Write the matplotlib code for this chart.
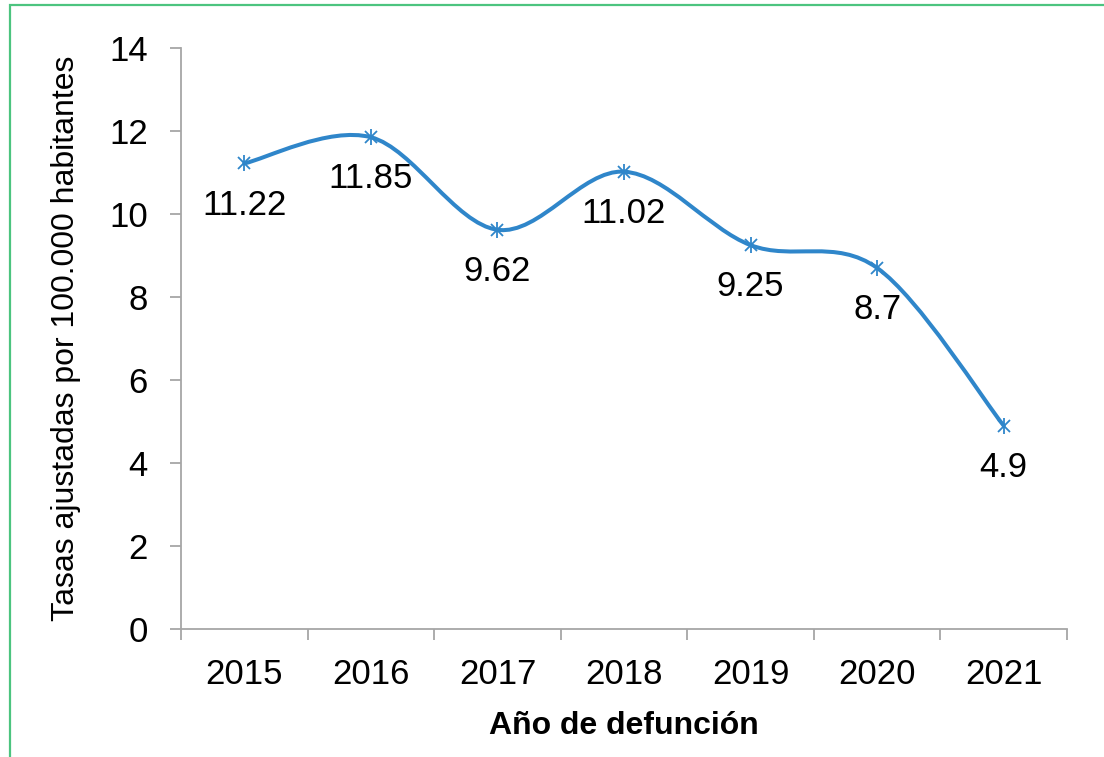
import matplotlib
matplotlib.use("Agg")
import matplotlib.pyplot as plt
from matplotlib.path import Path
from matplotlib.patches import PathPatch, Rectangle

# data
years = ["2015", "2016", "2017", "2018", "2019", "2020", "2021"]
rates = [11.22, 11.85, 9.62, 11.02, 9.25, 8.7, 4.9]
rate_labels = ["11.22", "11.85", "9.62", "11.02", "9.25", "8.7", "4.9"]
y_ticks = [0, 2, 4, 6, 8, 10, 12, 14]

LINE_COLOR = "#2f86ca"
AXIS_COLOR = "#a6a6a6"
FRAME_COLOR = "#4cc47f"

plt.rcParams['font.family'] = ['Liberation Sans', 'DejaVu Sans']

fig = plt.figure(figsize=(11.04, 7.57), dpi=100)
ax = fig.add_axes([0.164, 0.169, 0.8025, 0.7676])

x = list(range(len(years)))

# excel style smoothed line: cardinal spline drawn as cubic bezier segments
verts = [(x[0], rates[0])]
codes = [Path.MOVETO]
n = len(x)
for i in range(n - 1):
    p0 = (x[max(i - 1, 0)], rates[max(i - 1, 0)])
    p1 = (x[i], rates[i])
    p2 = (x[i + 1], rates[i + 1])
    p3 = (x[min(i + 2, n - 1)], rates[min(i + 2, n - 1)])
    c1 = (p1[0] + (p2[0] - p0[0]) / 6, p1[1] + (p2[1] - p0[1]) / 6)
    c2 = (p2[0] - (p3[0] - p1[0]) / 6, p2[1] - (p3[1] - p1[1]) / 6)
    verts += [c1, c2, p2]
    codes += [Path.CURVE4] * 3
ax.add_patch(PathPatch(Path(verts, codes), facecolor='none', edgecolor=LINE_COLOR,
                       lw=2.9, capstyle='round', zorder=3))

# asterisk markers (x + vertical bar)
ax.plot(x, rates, linestyle='none', marker='x', ms=9, mew=1.3, color=LINE_COLOR, zorder=4)
ax.plot(x, rates, linestyle='none', marker='|', ms=11, mew=1.3, color=LINE_COLOR, zorder=4)

for xi, yi, lab in zip(x, rates, rate_labels):
    ax.annotate(lab, (xi, yi), xytext=(0, -30), textcoords='offset points',
                ha='center', va='center', fontsize=25, color='black')

ax.set_xlim(-0.5, len(years) - 0.5)
ax.set_ylim(0, 14)
ax.set_yticks(y_ticks)
ax.set_xticks(x)
ax.set_xticklabels(years)
ax.set_xticks([i - 0.5 for i in range(len(years) + 1)], minor=True)

for s in ['top', 'right']:
    ax.spines[s].set_visible(False)
for s in ['left', 'bottom']:
    ax.spines[s].set_color(AXIS_COLOR)
    ax.spines[s].set_linewidth(1.3)

ax.tick_params(axis='y', direction='out', length=8, width=1.3, color=AXIS_COLOR,
               labelsize=25, pad=16)
ax.tick_params(axis='x', which='major', length=0, labelsize=25, pad=21)
ax.tick_params(axis='x', which='minor', direction='out', length=8, width=1.3, color=AXIS_COLOR)

ax.set_ylabel('Tasas ajustadas por 100.000 habitantes', fontsize=23, labelpad=20)
ax.set_xlabel('Año de defunción', fontsize=23, fontweight='bold', labelpad=14)

# green frame around the chart area
fig.patches.append(Rectangle((10 / 1104, -0.1), 1.2, 1 - 5 / 757 + 0.1,
                             transform=fig.transFigure, fill=False,
                             edgecolor=FRAME_COLOR, lw=1.6, zorder=0))

fig.savefig("out.png", dpi=100)
